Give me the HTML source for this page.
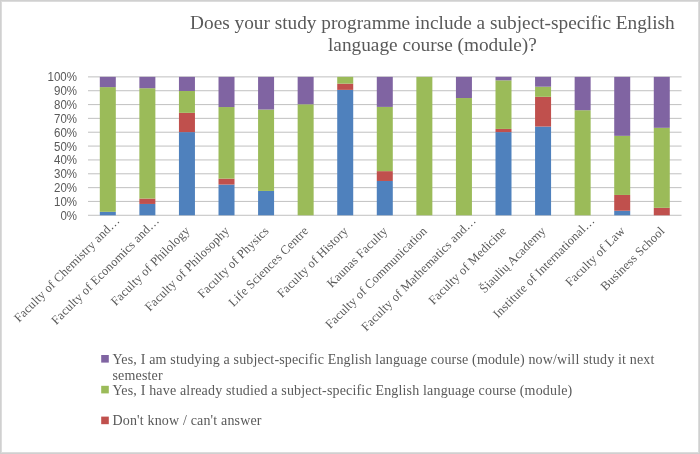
<!DOCTYPE html>
<html><head><meta charset="utf-8"><style>
html,body{margin:0;padding:0;background:#fff;}
#c{position:relative;width:700px;height:454px;overflow:hidden;background:#fff;font-family:"Liberation Sans",sans-serif;}
#b{position:absolute;left:0;top:0;width:698px;height:452px;border:1px solid #d0d0d0;box-shadow:inset 0 0 0 1px #dcdcdc;}
svg{position:absolute;left:0;top:0;will-change:transform;}
</style></head><body><div id="c"><svg width="700" height="454" viewBox="0 0 700 454">
<rect x="88.0" y="214.75" width="593.55" height="1.1" fill="#c6c6c6"/>
<rect x="88.0" y="200.91" width="593.55" height="1.1" fill="#c6c6c6"/>
<rect x="88.0" y="187.06" width="593.55" height="1.1" fill="#c6c6c6"/>
<rect x="88.0" y="173.22" width="593.55" height="1.1" fill="#c6c6c6"/>
<rect x="88.0" y="159.37" width="593.55" height="1.1" fill="#c6c6c6"/>
<rect x="88.0" y="145.53" width="593.55" height="1.1" fill="#c6c6c6"/>
<rect x="88.0" y="131.69" width="593.55" height="1.1" fill="#c6c6c6"/>
<rect x="88.0" y="117.84" width="593.55" height="1.1" fill="#c6c6c6"/>
<rect x="88.0" y="104.00" width="593.55" height="1.1" fill="#c6c6c6"/>
<rect x="88.0" y="90.15" width="593.55" height="1.1" fill="#c6c6c6"/>
<rect x="88.0" y="76.31" width="593.55" height="1.1" fill="#c6c6c6"/>
<rect x="99.80" y="211.84" width="16.0" height="3.46" fill="#4f81bd"/>
<rect x="99.80" y="87.10" width="16.0" height="124.73" fill="#9bbb59"/>
<rect x="99.80" y="76.86" width="16.0" height="10.24" fill="#8064a2"/>
<rect x="139.37" y="203.95" width="16.0" height="11.35" fill="#4f81bd"/>
<rect x="139.37" y="198.55" width="16.0" height="5.40" fill="#c0504d"/>
<rect x="139.37" y="88.21" width="16.0" height="110.34" fill="#9bbb59"/>
<rect x="139.37" y="76.86" width="16.0" height="11.35" fill="#8064a2"/>
<rect x="178.94" y="132.10" width="16.0" height="83.20" fill="#4f81bd"/>
<rect x="178.94" y="112.85" width="16.0" height="19.24" fill="#c0504d"/>
<rect x="178.94" y="90.98" width="16.0" height="21.87" fill="#9bbb59"/>
<rect x="178.94" y="76.86" width="16.0" height="14.12" fill="#8064a2"/>
<rect x="218.51" y="184.57" width="16.0" height="30.73" fill="#4f81bd"/>
<rect x="218.51" y="178.61" width="16.0" height="5.95" fill="#c0504d"/>
<rect x="218.51" y="107.04" width="16.0" height="71.57" fill="#9bbb59"/>
<rect x="218.51" y="76.86" width="16.0" height="30.18" fill="#8064a2"/>
<rect x="258.08" y="190.93" width="16.0" height="24.37" fill="#4f81bd"/>
<rect x="258.08" y="109.53" width="16.0" height="81.40" fill="#9bbb59"/>
<rect x="258.08" y="76.86" width="16.0" height="32.67" fill="#8064a2"/>
<rect x="297.65" y="104.27" width="16.0" height="111.03" fill="#9bbb59"/>
<rect x="297.65" y="76.86" width="16.0" height="27.41" fill="#8064a2"/>
<rect x="337.22" y="89.87" width="16.0" height="125.43" fill="#4f81bd"/>
<rect x="337.22" y="83.64" width="16.0" height="6.23" fill="#c0504d"/>
<rect x="337.22" y="76.86" width="16.0" height="6.78" fill="#9bbb59"/>
<rect x="376.79" y="180.97" width="16.0" height="34.33" fill="#4f81bd"/>
<rect x="376.79" y="171.14" width="16.0" height="9.83" fill="#c0504d"/>
<rect x="376.79" y="106.90" width="16.0" height="64.24" fill="#9bbb59"/>
<rect x="376.79" y="76.86" width="16.0" height="30.04" fill="#8064a2"/>
<rect x="416.36" y="76.86" width="16.0" height="138.44" fill="#9bbb59"/>
<rect x="455.93" y="98.04" width="16.0" height="117.26" fill="#9bbb59"/>
<rect x="455.93" y="76.86" width="16.0" height="21.18" fill="#8064a2"/>
<rect x="495.50" y="132.10" width="16.0" height="83.20" fill="#4f81bd"/>
<rect x="495.50" y="128.91" width="16.0" height="3.18" fill="#c0504d"/>
<rect x="495.50" y="80.32" width="16.0" height="48.59" fill="#9bbb59"/>
<rect x="495.50" y="76.86" width="16.0" height="3.46" fill="#8064a2"/>
<rect x="535.07" y="126.56" width="16.0" height="88.74" fill="#4f81bd"/>
<rect x="535.07" y="96.80" width="16.0" height="29.76" fill="#c0504d"/>
<rect x="535.07" y="86.69" width="16.0" height="10.11" fill="#9bbb59"/>
<rect x="535.07" y="76.86" width="16.0" height="9.83" fill="#8064a2"/>
<rect x="574.64" y="110.22" width="16.0" height="105.08" fill="#9bbb59"/>
<rect x="574.64" y="76.86" width="16.0" height="33.36" fill="#8064a2"/>
<rect x="614.21" y="210.73" width="16.0" height="4.57" fill="#4f81bd"/>
<rect x="614.21" y="194.95" width="16.0" height="15.78" fill="#c0504d"/>
<rect x="614.21" y="135.84" width="16.0" height="59.11" fill="#9bbb59"/>
<rect x="614.21" y="76.86" width="16.0" height="58.98" fill="#8064a2"/>
<rect x="653.78" y="207.82" width="16.0" height="7.48" fill="#c0504d"/>
<rect x="653.78" y="127.81" width="16.0" height="80.02" fill="#9bbb59"/>
<rect x="653.78" y="76.86" width="16.0" height="50.95" fill="#8064a2"/>
<text x="77" y="219.80" text-anchor="end" font-family="Liberation Sans" font-size="12.5" textLength="16.62" lengthAdjust="spacingAndGlyphs" fill="#595959">0%</text>
<text x="77" y="205.96" text-anchor="end" font-family="Liberation Sans" font-size="12.5" textLength="23.01" lengthAdjust="spacingAndGlyphs" fill="#595959">10%</text>
<text x="77" y="192.11" text-anchor="end" font-family="Liberation Sans" font-size="12.5" textLength="23.01" lengthAdjust="spacingAndGlyphs" fill="#595959">20%</text>
<text x="77" y="178.27" text-anchor="end" font-family="Liberation Sans" font-size="12.5" textLength="23.01" lengthAdjust="spacingAndGlyphs" fill="#595959">30%</text>
<text x="77" y="164.42" text-anchor="end" font-family="Liberation Sans" font-size="12.5" textLength="23.01" lengthAdjust="spacingAndGlyphs" fill="#595959">40%</text>
<text x="77" y="150.58" text-anchor="end" font-family="Liberation Sans" font-size="12.5" textLength="23.01" lengthAdjust="spacingAndGlyphs" fill="#595959">50%</text>
<text x="77" y="136.74" text-anchor="end" font-family="Liberation Sans" font-size="12.5" textLength="23.01" lengthAdjust="spacingAndGlyphs" fill="#595959">60%</text>
<text x="77" y="122.89" text-anchor="end" font-family="Liberation Sans" font-size="12.5" textLength="23.01" lengthAdjust="spacingAndGlyphs" fill="#595959">70%</text>
<text x="77" y="109.05" text-anchor="end" font-family="Liberation Sans" font-size="12.5" textLength="23.01" lengthAdjust="spacingAndGlyphs" fill="#595959">80%</text>
<text x="77" y="95.20" text-anchor="end" font-family="Liberation Sans" font-size="12.5" textLength="23.01" lengthAdjust="spacingAndGlyphs" fill="#595959">90%</text>
<text x="77" y="81.36" text-anchor="end" font-family="Liberation Sans" font-size="12.5" textLength="29.41" lengthAdjust="spacingAndGlyphs" fill="#595959">100%</text>
<text transform="translate(120.48,221.3) rotate(-45)" x="0" y="0" text-anchor="end" font-family="Liberation Serif" font-size="12.5" letter-spacing="0.14" fill="#595959">Faculty of Chemistry and…</text>
<text transform="translate(160.05,221.3) rotate(-45)" x="0" y="0" text-anchor="end" font-family="Liberation Serif" font-size="12.5" letter-spacing="0.14" fill="#595959">Faculty of Economics and…</text>
<text transform="translate(190.42,231.6) rotate(-45)" x="0" y="0" text-anchor="end" font-family="Liberation Serif" font-size="12.5" letter-spacing="0.14" fill="#595959">Faculty of Philology</text>
<text transform="translate(230.00,231.6) rotate(-45)" x="0" y="0" text-anchor="end" font-family="Liberation Serif" font-size="12.5" letter-spacing="0.14" fill="#595959">Faculty of Philosophy</text>
<text transform="translate(269.56,231.6) rotate(-45)" x="0" y="0" text-anchor="end" font-family="Liberation Serif" font-size="12.5" letter-spacing="0.14" fill="#595959">Faculty of Physics</text>
<text transform="translate(309.14,231.6) rotate(-45)" x="0" y="0" text-anchor="end" font-family="Liberation Serif" font-size="12.5" letter-spacing="0.14" fill="#595959">Life Sciences Centre</text>
<text transform="translate(348.71,231.6) rotate(-45)" x="0" y="0" text-anchor="end" font-family="Liberation Serif" font-size="12.5" letter-spacing="0.14" fill="#595959">Faculty of History</text>
<text transform="translate(388.28,231.6) rotate(-45)" x="0" y="0" text-anchor="end" font-family="Liberation Serif" font-size="12.5" letter-spacing="0.14" fill="#595959">Kaunas Faculty</text>
<text transform="translate(427.85,231.6) rotate(-45)" x="0" y="0" text-anchor="end" font-family="Liberation Serif" font-size="12.5" letter-spacing="0.14" fill="#595959">Faculty of Communication</text>
<text transform="translate(476.62,221.3) rotate(-45)" x="0" y="0" text-anchor="end" font-family="Liberation Serif" font-size="12.5" letter-spacing="0.14" fill="#595959">Faculty of Mathematics and…</text>
<text transform="translate(506.99,231.6) rotate(-45)" x="0" y="0" text-anchor="end" font-family="Liberation Serif" font-size="12.5" letter-spacing="0.14" fill="#595959">Faculty of Medicine</text>
<text transform="translate(546.55,231.6) rotate(-45)" x="0" y="0" text-anchor="end" font-family="Liberation Serif" font-size="12.5" letter-spacing="0.14" fill="#595959">Šiaulių Academy</text>
<text transform="translate(595.33,221.3) rotate(-45)" x="0" y="0" text-anchor="end" font-family="Liberation Serif" font-size="12.5" letter-spacing="0.14" fill="#595959">Institute of International…</text>
<text transform="translate(625.69,231.6) rotate(-45)" x="0" y="0" text-anchor="end" font-family="Liberation Serif" font-size="12.5" letter-spacing="0.14" fill="#595959">Faculty of Law</text>
<text transform="translate(665.26,231.6) rotate(-45)" x="0" y="0" text-anchor="end" font-family="Liberation Serif" font-size="12.5" letter-spacing="0.14" fill="#595959">Business School</text>
<text x="432.4" y="28.7" text-anchor="middle" font-family="Liberation Serif" font-size="19.3" fill="#595959">Does your study programme include a subject-specific English</text>
<text x="432.4" y="51.1" text-anchor="middle" font-family="Liberation Serif" font-size="19.3" fill="#595959">language course (module)?</text>
<rect x="101.2" y="355" width="7.6" height="7.6" fill="#8064a2"/>
<text x="112.5" y="363.8" font-family="Liberation Serif" font-size="14" letter-spacing="0.166" fill="#595959">Yes, I am studying a subject-specific English language course (module) now/will study it next</text>
<text x="112.5" y="379.8" font-family="Liberation Serif" font-size="14" letter-spacing="0.166" fill="#595959">semester</text>
<rect x="101.2" y="385.8" width="7.6" height="7.6" fill="#9bbb59"/>
<text x="112.5" y="394.5" font-family="Liberation Serif" font-size="14" letter-spacing="0.166" fill="#595959">Yes, I have already studied a subject-specific English language course (module)</text>
<rect x="101.2" y="416.6" width="7.6" height="7.6" fill="#c0504d"/>
<text x="112.5" y="424.8" font-family="Liberation Serif" font-size="14" letter-spacing="0.166" fill="#595959">Don't know / can't answer</text>
</svg><div id="b"></div></div></body></html>
